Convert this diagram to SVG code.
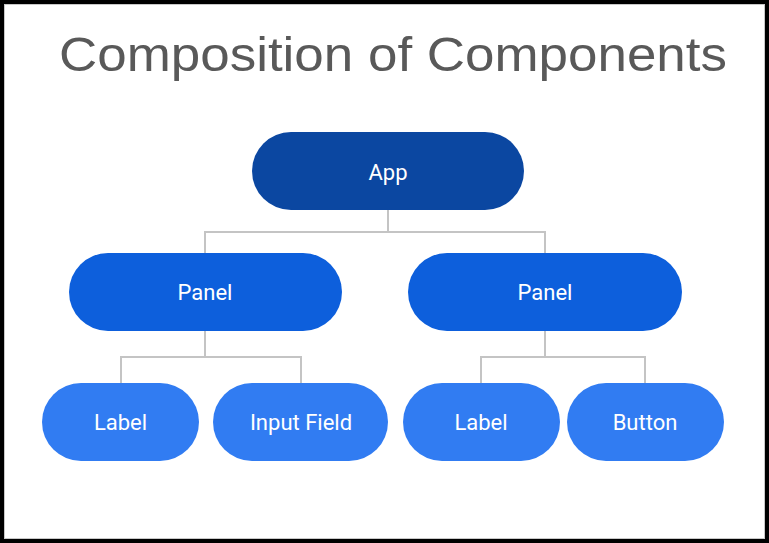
<svg xmlns="http://www.w3.org/2000/svg" width="769" height="543" viewBox="0 0 769 543">
  <style>
    .title { font-family: "Liberation Sans", Arial, sans-serif; font-size: 48px; fill: #595959; }
    .lbl { font-family: Roboto, "Noto Sans", sans-serif; font-size: 22px; fill: #ffffff; text-anchor: middle; }
    .root { fill: #0b47a1; }
    .mid { fill: #0d5fdc; }
    .leaf { fill: #317cf2; }
    .wire { fill: none; stroke: #c4c4c4; stroke-width: 2; }
  </style>

  <!-- page frame -->
  <rect x="0" y="0" width="769" height="543" fill="#ffffff"/>
  <rect x="2" y="2" width="765" height="539" fill="none" stroke="#000000" stroke-width="4"/>
  <rect x="4.5" y="4.5" width="760" height="534" fill="none" stroke="#c8c8c8" stroke-width="1"/>

  <text class="title" x="59" y="70.5" textLength="668" lengthAdjust="spacingAndGlyphs">Composition of Components</text>

  <!-- tree connectors -->
  <g id="connectors">
    <path class="wire" d="M388 210 V232 M205 253 V232 H545 V253"/>
    <path class="wire" d="M205 331 V357 M121 383 V357 H301 V383"/>
    <path class="wire" d="M545 331 V357 M481 383 V357 H645 V383"/>
  </g>

  <g id="app">
    <rect class="root" x="252" y="132" width="272" height="78" rx="39"/>
    <text class="lbl" x="388" y="180">App</text>
  </g>

  <g id="panel-left">
    <rect class="mid" x="69" y="253" width="273" height="78" rx="39"/>
    <text class="lbl" x="205" y="300">Panel</text>
  </g>

  <g id="panel-right">
    <rect class="mid" x="408" y="253" width="274" height="78" rx="39"/>
    <text class="lbl" x="545" y="300">Panel</text>
  </g>

  <g id="label-left">
    <rect class="leaf" x="42" y="383" width="157" height="78" rx="39"/>
    <text class="lbl" x="120.5" y="430">Label</text>
  </g>

  <g id="input-field">
    <rect class="leaf" x="213" y="383" width="175" height="78" rx="39"/>
    <text class="lbl" x="301" y="430">Input Field</text>
  </g>

  <g id="label-right">
    <rect class="leaf" x="403" y="383" width="157" height="78" rx="39"/>
    <text class="lbl" x="481" y="430">Label</text>
  </g>

  <g id="button">
    <rect class="leaf" x="567" y="383" width="157" height="78" rx="39"/>
    <text class="lbl" x="645" y="430">Button</text>
  </g>
</svg>
